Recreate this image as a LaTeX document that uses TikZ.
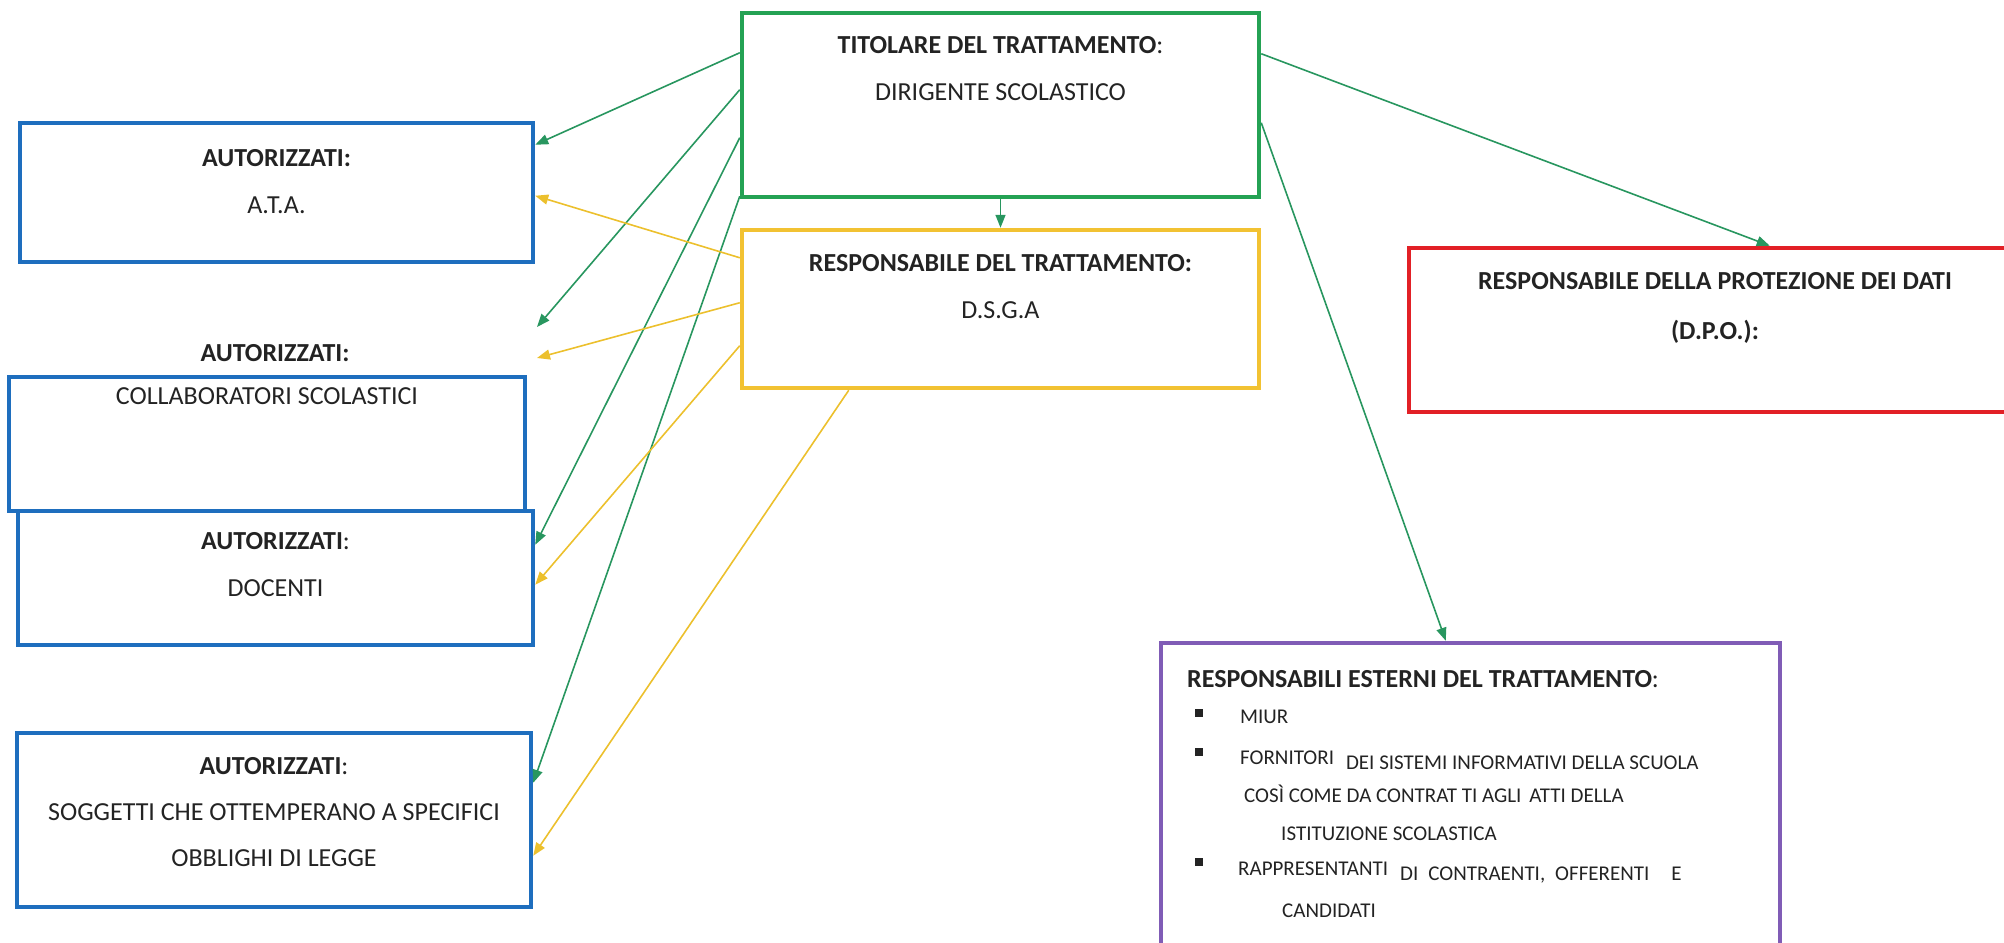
\documentclass[tikz,border=0pt]{standalone}
\usepackage{fontspec}
\setmainfont{Carlito}
\usetikzlibrary{positioning,calc,arrows.meta}

\definecolor{titgreen}{RGB}{36,162,84}
\definecolor{arrgreen}{RGB}{40,150,95}
\definecolor{respyellow}{RGB}{242,194,50}
\definecolor{arryellow}{RGB}{236,192,45}
\definecolor{autblue}{RGB}{30,110,190}
\definecolor{dpored}{RGB}{226,32,38}
\definecolor{extpurple}{RGB}{128,92,182}
\definecolor{txtgray}{RGB}{35,35,35}

\begin{document}
\begin{tikzpicture}[x=1pt,y=-1pt,
    box/.style={draw,line width=4.5pt,inner sep=0pt},
    txt/.style={inner sep=0pt,align=center,text=txtgray,font=\fontsize{26}{47}\selectfont},
    item/.style={inner sep=0pt,anchor=base west,text=txtgray,font=\fontsize{21}{25}\selectfont},
    garrow/.style={draw=arrgreen,line width=1.6pt,-{Triangle[length=13pt,width=10pt]}},
    yarrow/.style={draw=arryellow,line width=1.6pt,-{Triangle[length=13pt,width=10pt]}}]
    \useasboundingbox (0,0) rectangle (2004,942);

    % boxes
    \node[box,draw=titgreen,minimum width=517pt,minimum height=184pt] (tit) at (1000.5,105) {};
    \node[box,draw=respyellow,minimum width=517pt,minimum height=158pt] (resp) at (1000.5,309) {};
    \node[box,draw=autblue,minimum width=513pt,minimum height=139pt] (ata) at (276.5,192.5) {};
    \node[box,draw=autblue,minimum width=515pt,minimum height=134pt] (doc) at (275.5,578) {};
    \node[box,draw=autblue,minimum width=516pt,minimum height=134pt] (coll) at (267,444) {};
    \node[box,draw=autblue,minimum width=514pt,minimum height=174pt] (sog) at (274,820) {};
    \node[box,draw=dpored,minimum width=612pt,minimum height=164pt] (dpo) at (1715,330) {};
    \node[box,draw=extpurple,minimum width=619pt,minimum height=337pt] (ext) at (1470.5,811.5) {};

    % texts
    \node[txt,below=25.6pt of tit.north] (tittxt) {\textbf{TITOLARE DEL TRATTAMENTO}:\\DIRIGENTE SCOLASTICO};
    \node[txt,below=26.6pt of resp.north] (resptxt) {\textbf{RESPONSABILE DEL TRATTAMENTO:}\\D.S.G.A};
    \node[txt,below=28.6pt of ata.north] (atatxt) {\textbf{AUTORIZZATI:}\\A.T.A.};
    \node[txt] (lab) at (275,353) {\textbf{AUTORIZZATI:}};
    \node[txt,below=12.6pt of coll.north] (colltxt) {COLLABORATORI SCOLASTICI};
    \node[txt,below=23.6pt of doc.north] (doctxt) {\textbf{AUTORIZZATI}:\\DOCENTI};
    \node[txt,below=26.6pt of sog.north,font=\fontsize{26}{46}\selectfont] (sogtxt)
        {\textbf{AUTORIZZATI}:\\SOGGETTI CHE OTTEMPERANO A SPECIFICI\\OBBLIGHI DI LEGGE};
    \node[txt,below=26.6pt of dpo.north,font=\fontsize{26}{50}\selectfont] (dpotxt)
        {\textbf{RESPONSABILE DELLA PROTEZIONE DEI DATI}\\\textbf{(D.P.O.):}};

    \node[item,font=\fontsize{26}{30}\selectfont] (exttit) at (1187,687) {\textbf{RESPONSABILI ESTERNI DEL TRATTAMENTO}:};
    \node[item] (miur) at (1195,723) {\rule[6pt]{8pt}{8pt}\hspace{37pt}MIUR};
    \node[item] (forn) at (1195,764) {\rule[8pt]{8pt}{8pt}\hspace{37pt}FORNITORI\hspace{12pt}\raisebox{-5pt}{DEI SISTEMI INFORMATIVI DELLA SCUOLA}};
    \node[item] (cosi) at (1244,802) {COSÌ COME DA CONTRAT TI AGLI\hspace{8pt}ATTI DELLA};
    \node[item] (ist) at (1281,840) {ISTITUZIONE SCOLASTICA};
    \node[item] (rapp) at (1195,875) {\rule[9pt]{8pt}{8pt}\hspace{35pt}RAPPRESENTANTI\hspace{12pt}\raisebox{-5pt}{DI\hspace{10pt}CONTRAENTI,\hspace{10pt}OFFERENTI\hspace{22pt}E}};
    \node[item] (cand) at (1282,917) {CANDIDATI};

    % free ends
    \coordinate (gfree) at (537,327);
    \coordinate (yfree) at (537,358);

    % titolare
    \draw[garrow] ($(tit.north west)+(0,42)$) -- ($(ata.north east)+(0,24)$);
    \draw[garrow] ($(tit.north west)+(0,79)$) -- (gfree);
    \draw[garrow] ($(tit.north west)+(0,127)$) -- ($(doc.north east)+(0,36)$);
    \draw[garrow] ($(tit.south west)+(0,-3)$) -- ($(sog.north east)+(0,52)$);
    \draw[garrow] (tit.south) -- (resp.north);
    \draw[garrow] ($(tit.north east)+(0,43)$) -- ($(dpo.north west)+(363,0)$);
    \draw[garrow] ($(tit.north east)+(0,112)$) -- ($(ext.north west)+(287,0)$);

    % responsabile
    \draw[yarrow] ($(resp.north west)+(0,30)$) -- ($(ata.north east)+(0,75)$);
    \draw[yarrow] ($(resp.north west)+(0,75)$) -- (yfree);
    \draw[yarrow] ($(resp.north west)+(0,118)$) -- ($(doc.north east)+(0,76)$);
    \draw[yarrow] ($(resp.south west)+(109,0)$) -- ($(sog.north east)+(0,125)$);
\end{tikzpicture}
\end{document}
